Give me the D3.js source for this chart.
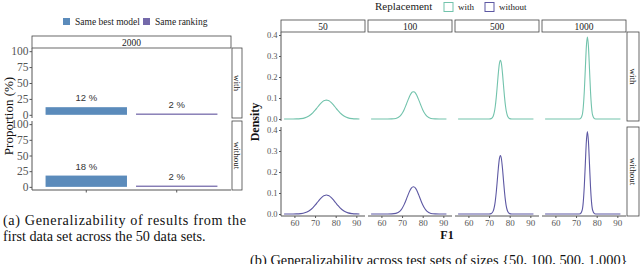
<!DOCTYPE html>
<html>
<head>
<meta charset="utf-8">
<script src="https://d3js.org/d3.v7.min.js"></script>
<style>
  body { margin: 0; background: #fff; }
  svg { display: block; font-family: "Liberation Serif", "DejaVu Serif", serif; }
</style>
</head>
<body>
<div id="chart"></div>
<script>
// ---- data, panel (a) ----
const barSeries = ["Same best model", "Same ranking"];
const barColors = ["#5b8bbb", "#7469aa"];
const barRows = ["with", "without"];
const withValues = [12, 2];
const withoutValues = [18, 2];
const propTicks = [0, 25, 50, 75, 100];

// ---- data, panel (b) ----
const sizes = ["50", "100", "500", "1000"];
const replacement = ["with", "without"];
const lineColors = ["#72c3ac", "#5d58a3"];
const f1Ticks = [60, 70, 80, 90];
const densTicks = [0.0, 0.1, 0.2, 0.3, 0.4];
const f1Grid = [55, 57, 59, 61, 63, 65, 67, 69, 70, 71, 72, 73, 73.5, 74, 74.5, 75, 75.5,
  76, 76.5, 77, 77.5, 78, 79, 80, 81, 82, 84, 86, 88, 90, 91.5];
const withDensity = [
  [0, 0, 0.0001, 0.0004, 0.0017, 0.0054, 0.0143, 0.0306, 0.0417, 0.0537, 0.0659, 0.0767, 0.0813, 0.085, 0.0877, 0.0894, 0.090,
   0.0894, 0.0877, 0.085, 0.0813, 0.0767, 0.0659, 0.0537, 0.0417, 0.0306, 0.0143, 0.0054, 0.0017, 0.0004, 0.0001],
  [0, 0, 0, 0, 0, 0.0004, 0.0028, 0.0138, 0.0262, 0.0444, 0.0679, 0.0934, 0.1052, 0.1154, 0.1233, 0.1283, 0.130,
   0.1283, 0.1233, 0.1154, 0.1052, 0.0934, 0.0679, 0.0444, 0.0262, 0.0138, 0.0028, 0.0004, 0, 0, 0],
  [0, 0, 0, 0, 0, 0, 0, 0, 0.0002, 0.0018, 0.0134, 0.0594, 0.104, 0.1604, 0.2185, 0.2632, 0.280,
   0.2632, 0.2185, 0.1604, 0.104, 0.0594, 0.0134, 0.0018, 0.0002, 0, 0, 0, 0, 0, 0],
  [0, 0, 0, 0, 0, 0, 0, 0, 0, 0, 0.0011, 0.0194, 0.0571, 0.1321, 0.2406, 0.3458, 0.390,
   0.3458, 0.2406, 0.1321, 0.0571, 0.0194, 0.0011, 0, 0, 0, 0, 0, 0, 0, 0]
];
const withoutDensity = [
  [0, 0, 0.0001, 0.0004, 0.0018, 0.0055, 0.0145, 0.0308, 0.0419, 0.0539, 0.0661, 0.0768, 0.0814, 0.0851, 0.0878, 0.0895, 0.0902,
   0.0896, 0.0878, 0.0851, 0.0813, 0.0766, 0.0657, 0.0535, 0.0415, 0.0304, 0.0142, 0.0053, 0.0017, 0.0004, 0.0001],
  [0, 0, 0, 0, 0, 0.0004, 0.0029, 0.014, 0.0265, 0.0447, 0.0682, 0.0936, 0.1053, 0.1154, 0.1232, 0.1281, 0.1297,
   0.128, 0.1229, 0.115, 0.1048, 0.093, 0.0675, 0.0441, 0.026, 0.0137, 0.0028, 0.0004, 0, 0, 0],
  [0, 0, 0, 0, 0, 0, 0, 0, 0.0002, 0.0019, 0.0138, 0.0601, 0.1048, 0.1608, 0.2182, 0.2622, 0.2785,
   0.2618, 0.2176, 0.1598, 0.1036, 0.0591, 0.0132, 0.0018, 0.0002, 0, 0, 0, 0, 0, 0],
  [0, 0, 0, 0, 0, 0, 0, 0, 0, 0, 0.0012, 0.0198, 0.0578, 0.1329, 0.2412, 0.3462, 0.393,
   0.3452, 0.2398, 0.1314, 0.0566, 0.0191, 0.0011, 0, 0, 0, 0, 0, 0, 0, 0]
];

const svg = d3.select("#chart").append("svg")
  .attr("width", 640).attr("height", 264);

const axisColor = "#555";
const tickText = "#555";
const stripStroke = "#444";

// =================== panel (a) ===================
const aLeft = 32, aRight = 231;
const aRows = [[48, 118], [121, 190]];
const aValues = [withValues, withoutValues];

const xBand = d3.scaleBand().domain(barSeries).range([aLeft, aRight])
  .paddingInner(0.1).paddingOuter(0.15);

// legend
const aLeg = svg.append("g");
const legX = [63, 143];
barSeries.forEach((s, i) => {
  aLeg.append("rect").attr("x", legX[i]).attr("y", 18).attr("width", 7).attr("height", 7)
    .attr("fill", barColors[i]);
  aLeg.append("text").attr("x", legX[i] + 12).attr("y", 25).attr("font-size", 9.5)
    .attr("font-family", "Liberation Serif").attr("fill", "#222").text(s);
});

// top strip
svg.append("rect").attr("x", aLeft).attr("y", 36).attr("width", aRight - aLeft).attr("height", 12)
  .attr("fill", "#fff").attr("stroke", stripStroke).attr("stroke-width", 0.8);
svg.append("text").attr("x", (aLeft + aRight) / 2).attr("y", 45.5).attr("text-anchor", "middle")
  .attr("font-size", 9.5).attr("fill", "#222").text("2000");

aRows.forEach((r, ri) => {
  const y = d3.scaleLinear().domain([-5, 105]).range([r[1], r[0]]);
  const g = svg.append("g");

  // y axis
  const ya = g.append("g").attr("transform", `translate(${aLeft},0)`)
    .call(d3.axisLeft(y).tickValues(propTicks).tickSize(2.5).tickPadding(1));
  ya.select(".domain").attr("stroke", axisColor).attr("d", `M0,${r[0]}V${r[1]}`);
  ya.selectAll(".tick line").attr("stroke", axisColor);
  ya.selectAll(".tick text").attr("font-family", "Liberation Serif").attr("font-size", 11.5)
    .attr("fill", tickText);

  // bars
  g.selectAll("rect.bar").data(aValues[ri]).join("rect").attr("class", "bar")
    .attr("x", (d, i) => xBand(barSeries[i])).attr("width", xBand.bandwidth())
    .attr("y", d => y(d)).attr("height", d => y(0) - y(d))
    .attr("fill", (d, i) => barColors[i]);
  g.selectAll("text.lab").data(aValues[ri]).join("text").attr("class", "lab")
    .attr("x", (d, i) => xBand(barSeries[i]) + xBand.bandwidth() / 2)
    .attr("y", d => y(d) - 6).attr("text-anchor", "middle")
    .attr("font-family", "Liberation Sans, Arial, sans-serif").attr("font-size", 9.5)
    .attr("fill", "#333").text(d => d + " %");

  // right strip
  g.append("rect").attr("x", aRight + 1).attr("y", r[0]).attr("width", 10).attr("height", r[1] - r[0])
    .attr("fill", "#fff").attr("stroke", stripStroke).attr("stroke-width", 0.8);
  g.append("text").attr("transform", `translate(${aRight + 3},${(r[0] + r[1]) / 2}) rotate(90)`)
    .attr("text-anchor", "middle").attr("font-size", 9).attr("fill", "#222").text(barRows[ri]);

  if (ri === aRows.length - 1) {
    const xa = g.append("g").attr("transform", `translate(0,${r[1]})`)
      .call(d3.axisBottom(xBand).tickSize(2.5).tickFormat(""));
    xa.select(".domain").attr("stroke", axisColor).attr("d", `M${aLeft},0H${aRight}`);
    xa.selectAll(".tick line").attr("stroke", axisColor);
  }
});

svg.append("text").attr("transform", "translate(13,116) rotate(-90)").attr("text-anchor", "middle")
  .attr("font-size", 13).attr("fill", "#111").text("Proportion (%)");

svg.append("text").attr("x", 3).attr("y", 225).attr("font-size", 14.2).attr("fill", "#111")
  .attr("textLength", 243).attr("lengthAdjust", "spacing")
  .text("(a) Generalizability of results from the");
svg.append("text").attr("x", 3).attr("y", 241).attr("font-size", 14.2).attr("fill", "#111")
  .text("first data set across the 50 data sets.");

// =================== panel (b) ===================
const bPanelX = [281, 368, 455, 542];
const bPanelW = 84;
const bRows = [[32, 121], [127, 216]];
const bDens = [withDensity, withoutDensity];

// legend
const bLeg = svg.append("g");
bLeg.append("text").attr("x", 375).attr("y", 10).attr("font-size", 11).attr("fill", "#222").text("Replacement");
const bLegX = [444, 485];
replacement.forEach((s, i) => {
  bLeg.append("rect").attr("x", bLegX[i]).attr("y", 2.5).attr("width", 9).attr("height", 9)
    .attr("fill", "#fff").attr("stroke", lineColors[i]).attr("stroke-width", 1);
  bLeg.append("text").attr("x", bLegX[i] + 14).attr("y", 10).attr("font-size", 9)
    .attr("fill", "#222").text(s);
});

sizes.forEach((s, ci) => {
  const x0 = bPanelX[ci];
  svg.append("rect").attr("x", x0).attr("y", 20).attr("width", bPanelW).attr("height", 12)
    .attr("fill", "#fff").attr("stroke", stripStroke).attr("stroke-width", 0.8);
  svg.append("text").attr("x", x0 + bPanelW / 2).attr("y", 29.5).attr("text-anchor", "middle")
    .attr("font-size", 9.5).attr("fill", "#222").text(s);
});

bRows.forEach((r, ri) => {
  const y = d3.scaleLinear().domain([-0.0095, 0.4143]).range([r[1], r[0]]);
  sizes.forEach((s, ci) => {
    const x0 = bPanelX[ci];
    const x = d3.scaleLinear().domain([53.5, 94.2]).range([x0, x0 + bPanelW]);
    const g = svg.append("g");
    const pts = f1Grid.map((f, k) => [f, bDens[ri][ci][k]]);
    g.append("path").datum(pts)
      .attr("d", d3.line().x(d => x(d[0])).y(d => y(d[1])).curve(d3.curveMonotoneX))
      .attr("fill", "none").attr("stroke", lineColors[ri]).attr("stroke-width", 1.1);

    if (ci === 0) {
      const ya = g.append("g").attr("transform", `translate(${x0},0)`)
        .call(d3.axisLeft(y).tickValues(densTicks).tickSize(2).tickPadding(1.5).tickFormat(d3.format(".1f")));
      ya.select(".domain").attr("stroke", axisColor).attr("d", `M0,${r[0]}V${r[1]}`);
      ya.selectAll(".tick line").attr("stroke", axisColor);
      ya.selectAll(".tick text").attr("font-family", "Liberation Serif").attr("font-size", 8.5)
        .attr("fill", tickText);
    }
    if (ri === bRows.length - 1) {
      const xa = g.append("g").attr("transform", `translate(0,${r[1]})`)
        .call(d3.axisBottom(x).tickValues(f1Ticks).tickSize(2).tickPadding(1.5));
      xa.select(".domain").attr("stroke", axisColor).attr("d", `M${x0},0H${x0 + bPanelW}`);
      xa.selectAll(".tick line").attr("stroke", axisColor);
      xa.selectAll(".tick text").attr("font-family", "Liberation Serif").attr("font-size", 9)
        .attr("fill", tickText);
    }
  });
  svg.append("rect").attr("x", 627).attr("y", r[0]).attr("width", 12).attr("height", r[1] - r[0])
    .attr("fill", "#fff").attr("stroke", stripStroke).attr("stroke-width", 0.8);
  svg.append("text").attr("transform", `translate(630,${(r[0] + r[1]) / 2}) rotate(90)`)
    .attr("text-anchor", "middle").attr("font-size", 9).attr("fill", "#222").text(replacement[ri]);
});

svg.append("text").attr("transform", "translate(259,122) rotate(-90)").attr("text-anchor", "middle")
  .attr("font-size", 12).attr("font-weight", "bold").attr("fill", "#111").text("Density");
svg.append("text").attr("x", 447).attr("y", 239).attr("text-anchor", "middle")
  .attr("font-size", 12).attr("font-weight", "bold").attr("fill", "#111").text("F1");

svg.append("text").attr("x", 250).attr("y", 265).attr("font-size", 14.4).attr("fill", "#111")
  .text("(b) Generalizability across test sets of sizes {50, 100, 500, 1,000}");
</script>
</body>
</html>
